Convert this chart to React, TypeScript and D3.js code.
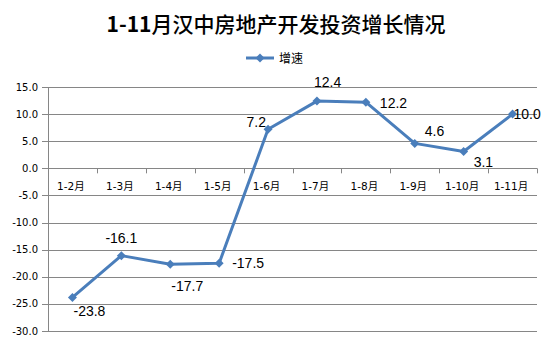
import React from "react";
import * as d3 from "d3";

const categories: string[] = ["1-2月", "1-3月", "1-4月", "1-5月", "1-6月", "1-7月", "1-8月", "1-9月", "1-10月", "1-11月"];
const growth: number[] = [-23.8, -16.1, -17.7, -17.5, 7.2, 12.4, 12.2, 4.6, 3.1, 10.0];
const yTicks: number[] = [15, 10, 5, 0, -5, -10, -15, -20, -25, -30];
const seriesName = "增速";
const titlePrefix = "1-11";
const titleRest = "月汉中房地产开发投资增长情况";

// label placement (style, not data): [dx, dy, anchor]
const labelPlacement: [number, number, string][] = [
  [17, 14, "middle"],
  [0, -18, "middle"],
  [17, 22, "middle"],
  [13, 0, "start"],
  [-2, -7, "end"],
  [-3, -19, "start"],
  [14, 1, "start"],
  [10, -12, "start"],
  [10, 10, "start"],
  [1, 0, "start"],
];

const W = 552;
const H = 346;
const LINE = "#4A7EBB";
const GRID = "#868686";

const fmt = d3.formatLocale({ decimal: ".", thousands: ",", grouping: [3], currency: ["", ""], minus: "-" }).format(".1f");

export default function App() {
  const x = d3.scaleBand<string>().domain(categories).range([48, 537]);
  const y = d3.scaleLinear().domain([-30, 15]).range([331, 87]);
  const cx = (i: number) => (x(categories[i]) as number) + x.bandwidth() / 2;
  const line = d3
    .line<number>()
    .x((_, i) => cx(i))
    .y((d) => y(d));
  const diamond = (s: number) => `M0,${-s}L${s},0L0,${s}L${-s},0Z`;
  const bounds = categories.map((c) => x(c) as number).concat([537]);

  return (
    <svg width={W} height={H} style={{ position: "absolute", left: 0, top: 0, background: "#fff" }}>
      <rect x={0} y={0} width={W} height={H} fill="#fff" />
      <text
        x={276}
        y={23}
        textAnchor="middle"
        dominantBaseline="central"
        fontFamily="'Noto Sans CJK SC', sans-serif"
        fontSize={21}
        fill="#000"
      >
        <tspan fontWeight="bold">{titlePrefix}</tspan>
        <tspan fontWeight={500}>{titleRest}</tspan>
      </text>
      {/* legend */}
      <g>
        <line x1={246} x2={274} y1={58} y2={58} stroke={LINE} strokeWidth={3} />
        <path d={diamond(4.5)} transform="translate(260,58)" fill={LINE} />
        <text x={279} y={57.5} dominantBaseline="central" fontFamily="'Noto Sans CJK SC', sans-serif" fontSize={12} fill="#000">
          {seriesName}
        </text>
      </g>
      {/* gridlines + y ticks */}
      {yTicks.map((t) => (
        <g key={t}>
          <line x1={42} x2={537} y1={Math.round(y(t)) + 0.5} y2={Math.round(y(t)) + 0.5} stroke={GRID} strokeWidth={1} />
          <text
            x={38}
            y={y(t)}
            textAnchor="end"
            dominantBaseline="central"
            fontFamily="'DejaVu Sans', sans-serif"
            fontSize={10}
            fill="#000"
          >
            {fmt(t)}
          </text>
        </g>
      ))}
      <line x1={48.5} x2={48.5} y1={87} y2={331.5} stroke={GRID} strokeWidth={1} />
      {/* category ticks on zero line */}
      {bounds.map((b, i) => (
        <line key={i} x1={Math.round(b) + 0.5} x2={Math.round(b) + 0.5} y1={y(0)} y2={y(0) + 5} stroke={GRID} strokeWidth={1} />
      ))}
      {categories.map((c, i) => (
        <text
          key={c}
          x={cx(i) - 1.5}
          y={186}
          textAnchor="middle"
          dominantBaseline="central"
          fontFamily="'DejaVu Sans', 'Noto Sans CJK SC', sans-serif"
          fontSize={10.5}
          fill="#000"
        >
          {c}
        </text>
      ))}
      {/* series */}
      <path d={line(growth) || ""} fill="none" stroke={LINE} strokeWidth={3} strokeLinejoin="round" />
      {growth.map((v, i) => (
        <path key={i} d={diamond(4.5)} transform={`translate(${cx(i)},${y(v)})`} fill={LINE} />
      ))}
      {growth.map((v, i) => {
        const [dx, dy, anchor] = labelPlacement[i];
        return (
          <text
            key={"l" + i}
            x={cx(i) + dx}
            y={y(v) + dy}
            textAnchor={anchor as any}
            dominantBaseline="central"
            fontFamily="'Liberation Sans', Arial, sans-serif"
            fontSize={14}
            fill="#000"
          >
            {fmt(v)}
          </text>
        );
      })}
    </svg>
  );
}
